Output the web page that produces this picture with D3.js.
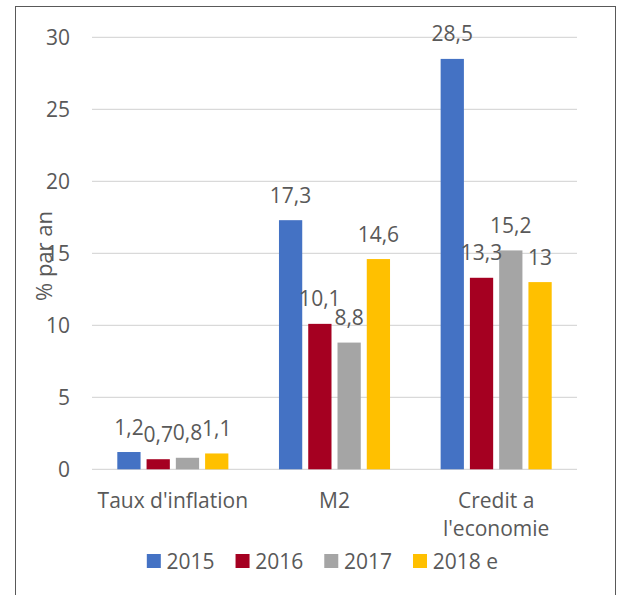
<!DOCTYPE html>
<html>
<head>
<meta charset="utf-8">
<script src="https://cdn.jsdelivr.net/npm/d3@7"></script>
<style>
  html, body { margin: 0; padding: 0; background: #fff; }
  svg { display: block; }
  text { font-family: "Open Sans", Lato, sans-serif; fill: #595959; }
</style>
</head>
<body>
<div id="chart"></div>
<script>
// Categories, series and values
const categories = ["Taux d'inflation", "M2", "Credit a l'economie"];
const categoryLines = [["Taux d'inflation"], ["M2"], ["Credit a", "l'economie"]];
const seriesNames = ["2015", "2016", "2017", "2018 e"];
const seriesColors = ["#4472C4", "#A50021", "#A5A5A5", "#FFC000"];
const values2015 = [1.2, 17.3, 28.5];
const values2016 = [0.7, 10.1, 13.3];
const values2017 = [0.8, 8.8, 15.2];
const values2018e = [1.1, 14.6, 13];
const yTicks = [0, 5, 10, 15, 20, 25, 30];
const yTitle = "% par an";

const seriesValues = [values2015, values2016, values2017, values2018e];
const fmt = v => String(v).replace(".", ",");
const FONT = "'Open Sans', Lato, sans-serif";
const FS = 21;

const W = 617, H = 595;
const svg = d3.select("#chart").append("svg").attr("width", W).attr("height", H);

// chart frame
svg.append("rect")
  .attr("x", 15.5).attr("y", 6.5).attr("width", 600).attr("height", 600)
  .attr("fill", "none").attr("stroke", "#595959").attr("stroke-width", 1);

const plot = { left: 92, right: 577, top: 37.3, bottom: 469.3 };

const y = d3.scaleLinear().domain([0, 30]).range([plot.bottom, plot.top]);
const x0 = d3.scaleBand().domain(categories).range([plot.left, plot.right]).padding(0);
const groupW = x0.bandwidth() * 0.687;
const x1 = d3.scaleBand().domain(seriesNames)
  .range([(x0.bandwidth() - groupW) / 2, (x0.bandwidth() + groupW) / 2])
  .paddingInner(0.205).paddingOuter(0);

// gridlines
svg.append("g").selectAll("line").data(yTicks).join("line")
  .attr("x1", plot.left).attr("x2", plot.right)
  .attr("y1", d => y(d)).attr("y2", d => y(d))
  .attr("stroke", "#d9d9d9").attr("stroke-width", 1.3);

// y axis tick labels
const yAxis = d3.axisLeft(y).tickValues(yTicks).tickSize(0).tickPadding(22);
const gy = svg.append("g").attr("transform", `translate(${plot.left},0)`).call(yAxis);
gy.select(".domain").remove();
gy.selectAll("text").attr("font-size", FS).attr("font-family", FONT).attr("fill", "#595959");

// y axis title
svg.append("text")
  .attr("transform", `translate(52,256) rotate(-90)`)
  .attr("text-anchor", "middle")
  .attr("font-size", 22)
  .text(yTitle);

// bars and value labels
const groups = svg.append("g").selectAll("g").data(categories).join("g")
  .attr("transform", d => `translate(${x0(d)},0)`);

groups.each(function(cat, ci) {
  const g = d3.select(this);
  const rows = seriesNames.map((s, si) => ({ s, si, v: seriesValues[si][ci] }));
  g.selectAll("rect").data(rows).join("rect")
    .attr("x", d => x1(d.s))
    .attr("y", d => y(d.v))
    .attr("width", x1.bandwidth())
    .attr("height", d => y(0) - y(d.v))
    .attr("fill", d => seriesColors[d.si]);
  g.selectAll("text.val").data(rows).join("text")
    .attr("class", "val")
    .attr("x", d => x1(d.s) + x1.bandwidth() / 2)
    .attr("y", d => y(d.v) - 17.5)
    .attr("text-anchor", "middle")
    .attr("font-size", FS)
    .text(d => fmt(d.v));
});

// category labels
const xl = svg.append("g").selectAll("text").data(categories).join("text")
  .attr("x", d => x0(d) + x0.bandwidth() / 2)
  .attr("y", 507.5)
  .attr("text-anchor", "middle")
  .attr("font-size", FS);
xl.each(function(d, i) {
  d3.select(this).selectAll("tspan").data(categoryLines[i]).join("tspan")
    .attr("x", x0(d) + x0.bandwidth() / 2)
    .attr("dy", (t, j) => j === 0 ? 0 : 28.5)
    .text(t => t);
});

// legend
const legend = svg.append("g");
let lx = 0;
const items = legend.selectAll("g").data(seriesNames).join("g");
items.append("rect")
  .attr("width", 14).attr("height", 14).attr("y", 554)
  .attr("fill", (d, i) => seriesColors[i]);
items.append("text")
  .attr("x", 19.7).attr("y", 568.5)
  .attr("font-size", FS)
  .text(d => d);
items.each(function() {
  const tw = d3.select(this).select("text").node().getComputedTextLength();
  d3.select(this).attr("transform", `translate(${lx},0)`);
  lx += 19.7 + tw + 21;
});
const legendW = lx - 21;
legend.attr("transform", `translate(${322.4 - legendW / 2},0)`);
</script>
</body>
</html>
